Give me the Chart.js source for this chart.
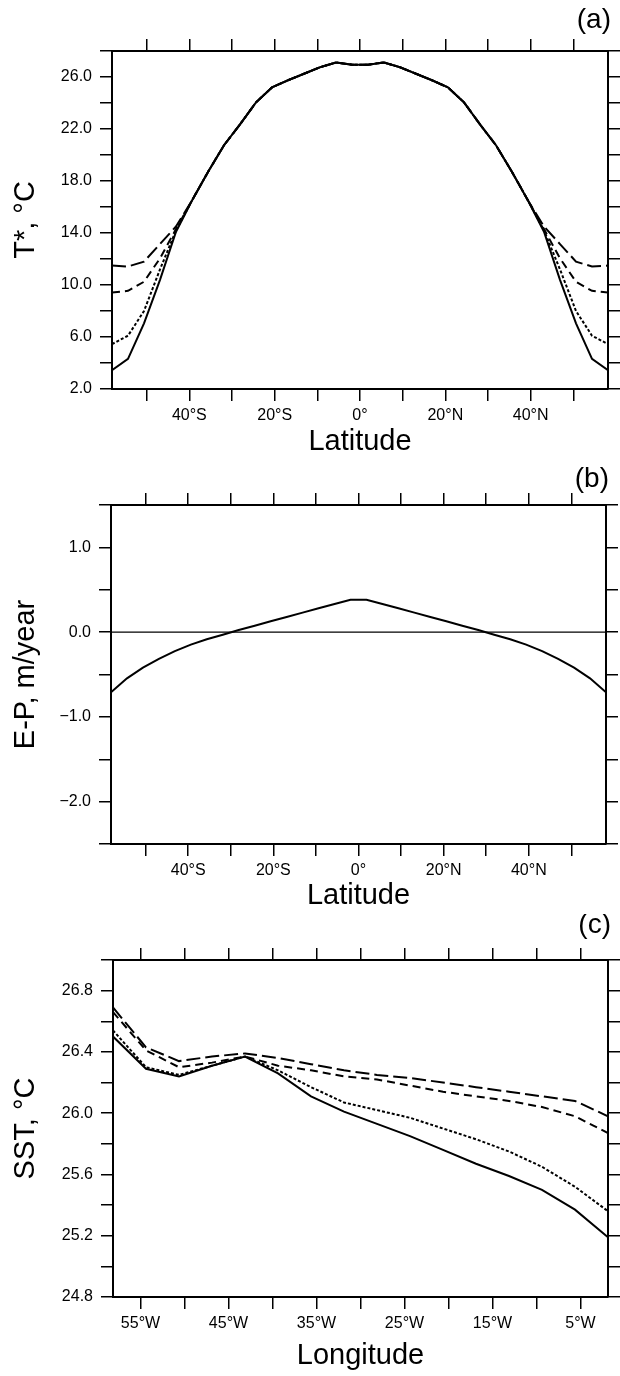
<!DOCTYPE html>
<html>
<head>
<meta charset="utf-8">
<script src="https://cdn.jsdelivr.net/npm/chart.js@4.4.1/dist/chart.umd.min.js"></script>
<style>
  body { margin: 0; background: #fff; }
  #wrap { position: relative; width: 620px; height: 1376px; }
  canvas { position: absolute; left: 0; }
</style>
</head>
<body>
<div id="wrap">
  <canvas id="panelA" width="620" height="460" style="top:0px"></canvas>
  <canvas id="panelB" width="618" height="454" style="top:460px"></canvas>
  <canvas id="panelC" width="620" height="462" style="top:914px"></canvas>
</div>
<script>
// latitude grid (3.75 deg)
const lat = [-58.125, -54.375, -50.625, -46.875, -43.125, -39.375, -35.625, -31.875,
  -28.125, -24.375, -20.625, -16.875, -13.125, -9.375, -5.625, -1.875,
  1.875, 5.625, 9.375, 13.125, 16.875, 20.625, 24.375, 28.125,
  31.875, 35.625, 39.375, 43.125, 46.875, 50.625, 54.375, 58.125];

// (a) restoring temperature T*
const tSolid = [3.45, 4.32, 7.05, 10.4, 14.1, 16.5, 18.7, 20.75, 22.35, 24.05, 25.2, 25.75, 26.25, 26.75, 27.12, 26.95,
  26.95, 27.12, 26.75, 26.25, 25.75, 25.2, 24.05, 22.35, 20.75, 18.7, 16.5, 14.1, 10.4, 7.05, 4.32, 3.45];
const tDotted = [5.45, 6.1, 8.0, 11.2, 14.2, 16.5, 18.7, 20.75, 22.35, 24.05, 25.2, 25.75, 26.25, 26.75, 27.12, 26.95,
  26.95, 27.12, 26.75, 26.25, 25.75, 25.2, 24.05, 22.35, 20.75, 18.7, 16.5, 14.2, 11.2, 8.0, 6.1, 5.45];
const tDashed = [9.42, 9.55, 10.25, 12.05, 14.3, 16.5, 18.7, 20.75, 22.35, 24.05, 25.2, 25.75, 26.25, 26.75, 27.12, 26.95,
  26.95, 27.12, 26.75, 26.25, 25.75, 25.2, 24.05, 22.35, 20.75, 18.7, 16.5, 14.3, 12.05, 10.25, 9.55, 9.42];
const tLongDash = [11.5, 11.42, 11.8, 13.15, 14.5, 16.5, 18.7, 20.75, 22.35, 24.05, 25.2, 25.75, 26.25, 26.75, 27.12, 26.95,
  26.95, 27.12, 26.75, 26.25, 25.75, 25.2, 24.05, 22.35, 20.75, 18.7, 16.5, 14.5, 13.15, 11.8, 11.42, 11.5];

// (b) E-P
const ep = [-0.71, -0.545, -0.42, -0.315, -0.225, -0.148, -0.085, -0.03, 0.025, 0.076, 0.128, 0.178, 0.23, 0.281, 0.332, 0.382,
  0.382, 0.332, 0.281, 0.23, 0.178, 0.128, 0.076, 0.025, -0.03, -0.085, -0.148, -0.225, -0.315, -0.42, -0.545, -0.71];

// (c) SST along longitude
const lon = [-58.125, -54.375, -50.625, -46.875, -43.125, -39.375, -35.625, -31.875,
  -28.125, -24.375, -20.625, -16.875, -13.125, -9.375, -5.625, -1.875];
const sstSolid = [26.50, 26.29, 26.24, 26.31, 26.37, 26.26, 26.11, 26.01, 25.93, 25.85, 25.76, 25.67, 25.59, 25.50, 25.37, 25.19];
const sstDotted = [26.54, 26.30, 26.25, 26.31, 26.37, 26.28, 26.17, 26.07, 26.02, 25.97, 25.90, 25.83, 25.75, 25.65, 25.52, 25.36];
const sstDashed = [26.66, 26.41, 26.30, 26.33, 26.37, 26.31, 26.28, 26.24, 26.22, 26.18, 26.14, 26.11, 26.08, 26.04, 25.98, 25.87];
const sstLongDash = [26.69, 26.43, 26.34, 26.37, 26.39, 26.36, 26.32, 26.28, 26.25, 26.23, 26.20, 26.17, 26.14, 26.11, 26.08, 25.98];

// ticks and labels
const latTicks = [-50, -40, -30, -20, -10, 0, 10, 20, 30, 40, 50];
const latLabels = { '-40': '40°S', '-20': '20°S', '0': '0°', '20': '20°N', '40': '40°N' };
const lonTicks = [-55, -50, -45, -40, -35, -30, -25, -20, -15, -10, -5];
const lonLabels = { '-55': '55°W', '-45': '45°W', '-35': '35°W', '-25': '25°W', '-15': '15°W', '-5': '5°W' };
const tTicks = [2, 4, 6, 8, 10, 12, 14, 16, 18, 20, 22, 24, 26, 28];
const tLabels = ['2.0', '6.0', '10.0', '14.0', '18.0', '22.0', '26.0'];
const epTicks = [-2.5, -2, -1.5, -1, -0.5, 0, 0.5, 1, 1.5];
const epLabels = ['−2.0', '−1.0', '0.0', '1.0'];
const sstTicks = [24.8, 25.0, 25.2, 25.4, 25.6, 25.8, 26.0, 26.2, 26.4, 26.6, 26.8, 27.0];
const sstLabels = ['24.8', '25.2', '25.6', '26.0', '26.4', '26.8'];

const FONT = '"Liberation Sans", Arial, sans-serif';
const TICK_LEN = 12;

const fmtY = labels => v => {
  const s = (v < 0 ? '−' : '') + Math.abs(v).toFixed(1);
  return labels.includes(s) ? s : '';
};

const panelLabel = {
  id: 'panelLabel',
  afterDraw(chart, args, opts) {
    const ctx = chart.ctx;
    ctx.save();
    ctx.font = '28px ' + FONT;
    ctx.fillStyle = '#000';
    ctx.textAlign = 'right';
    ctx.textBaseline = 'middle';
    ctx.fillText(opts.text, chart.chartArea.right + 3, opts.y);
    ctx.restore();
  }
};

function buildScales(o) {
  const setTicks = vals => s => { s.ticks = vals.map(v => ({ value: v })); };
  const grid = { drawOnChartArea: false, drawTicks: true, tickLength: TICK_LEN, color: '#000', lineWidth: 1.5 };
  const border = { display: true, color: '#000', width: 2 };
  const tickFont = { family: FONT, size: 16 };
  const titleFont = { family: FONT, size: 29 };
  return {
    x: {
      type: 'linear', position: 'bottom', min: o.xMin, max: o.xMax,
      afterBuildTicks: setTicks(o.xTicks),
      afterFit: s => { s.height = o.bottomH; },
      grid, border,
      ticks: { autoSkip: false, maxRotation: 0, padding: 5, color: '#000', font: tickFont,
        callback: v => o.xLabels[String(v)] || '' },
      title: { display: true, text: o.xTitle, color: '#000', font: titleFont,
        padding: { top: 0, bottom: o.xTitlePad } }
    },
    xTop: {
      type: 'linear', position: 'top', min: o.xMin, max: o.xMax,
      afterBuildTicks: setTicks(o.xTicks),
      afterFit: s => { s.height = o.topH; },
      grid, border, ticks: { display: false }
    },
    y: {
      type: 'linear', position: 'left', min: o.yMin, max: o.yMax,
      afterBuildTicks: setTicks(o.yTicks),
      afterFit: s => { s.width = o.leftW; },
      grid, border,
      ticks: { autoSkip: false, padding: 8, color: '#000', font: tickFont, callback: fmtY(o.yLabels) },
      title: { display: true, text: o.yTitle, color: '#000', font: titleFont, padding: { top: 9, bottom: 0 } }
    },
    yRight: {
      type: 'linear', position: 'right', min: o.yMin, max: o.yMax,
      afterBuildTicks: setTicks(o.yTicks),
      afterFit: s => { s.width = TICK_LEN; },
      grid, border, ticks: { display: false }
    }
  };
}

const line = (xs, ys, dash, width) => ({
  data: xs.map((x, i) => ({ x, y: ys[i] })),
  borderColor: '#000',
  borderWidth: width || 2,
  borderDash: dash,
  pointRadius: 0,
  tension: 0,
  fill: false
});

function makeChart(id, datasets, scales, label) {
  return new Chart(document.getElementById(id), {
    type: 'line',
    data: { datasets },
    options: {
      responsive: false,
      animation: false,
      layout: { padding: 0 },
      scales,
      plugins: { legend: { display: false }, tooltip: { enabled: false }, panelLabel: label }
    },
    plugins: [panelLabel]
  });
}

makeChart('panelA', [
  line(lat, tLongDash, [14, 5]),
  line(lat, tDashed, [8, 5]),
  line(lat, tDotted, [3, 2]),
  line(lat, tSolid, [])
], buildScales({
  xMin: -58.125, xMax: 58.125, xTicks: latTicks, xLabels: latLabels, xTitle: 'Latitude',
  yMin: 2, yMax: 28, yTicks: tTicks, yLabels: tLabels, yTitle: 'T*, °C',
  topH: 51, bottomH: 71, leftW: 112, xTitlePad: 1
}), { text: '(a)', y: 20 });

makeChart('panelB', [
  line([-58.125, 58.125], [0, 0], [], 1.3),
  line(lat, ep, [])
], buildScales({
  xMin: -58.125, xMax: 58.125, xTicks: latTicks, xLabels: latLabels, xTitle: 'Latitude',
  yMin: -2.5, yMax: 1.5, yTicks: epTicks, yLabels: epLabels, yTitle: 'E-P, m/year',
  topH: 45, bottomH: 70, leftW: 111, xTitlePad: 1
}), { text: '(b)', y: 19 });

makeChart('panelC', [
  line(lon, sstLongDash, [14, 5]),
  line(lon, sstDashed, [8, 5]),
  line(lon, sstDotted, [3, 2]),
  line(lon, sstSolid, [])
], buildScales({
  xMin: -58.125, xMax: -1.875, xTicks: lonTicks, xLabels: lonLabels, xTitle: 'Longitude',
  yMin: 24.8, yMax: 27.0, yTicks: sstTicks, yLabels: sstLabels, yTitle: 'SST, °C',
  topH: 46, bottomH: 79, leftW: 113, xTitlePad: 3
}), { text: '(c)', y: 11 });
</script>
</body>
</html>
